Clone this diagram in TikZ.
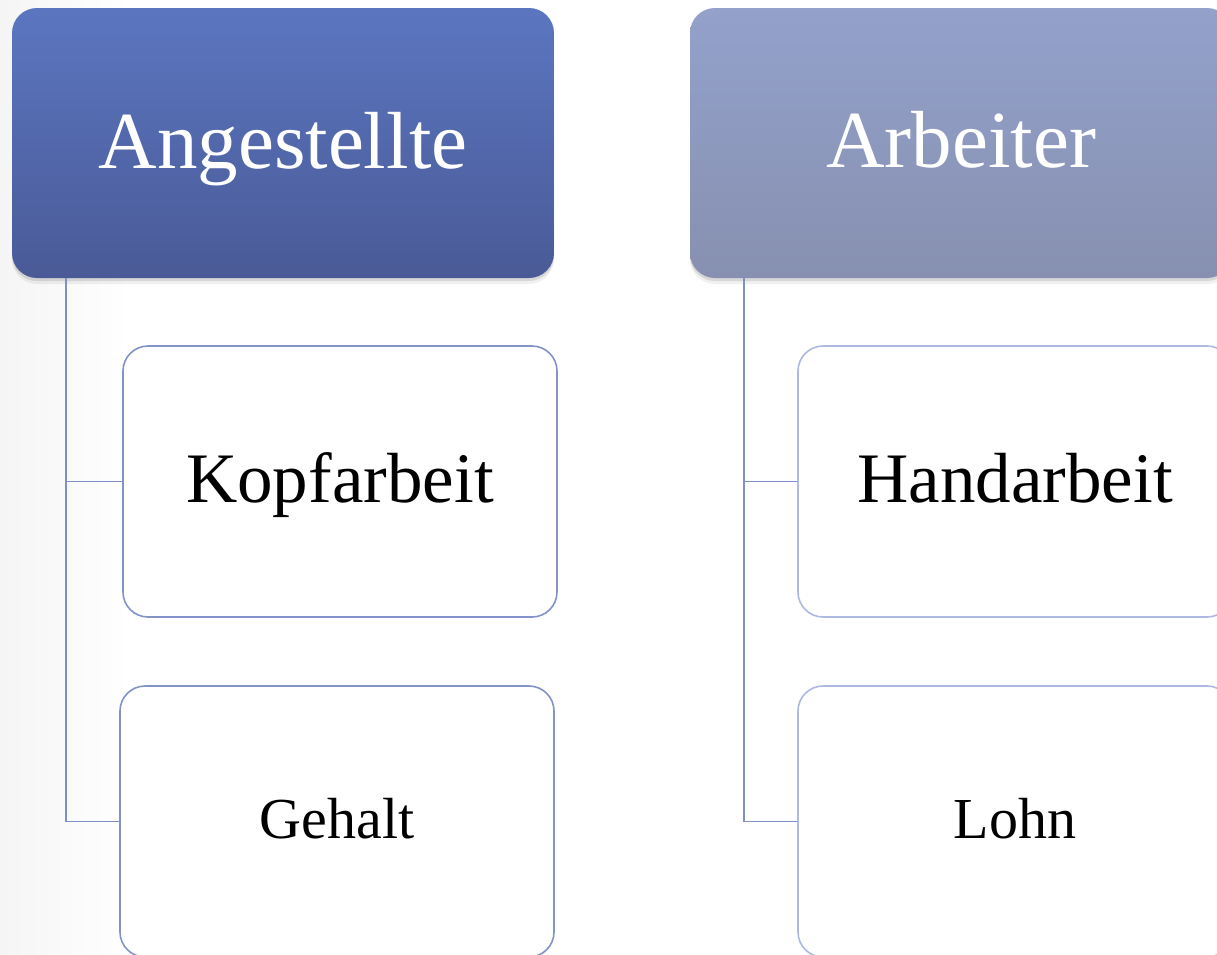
\documentclass[tikz,border=0pt]{standalone}
\usepackage{fontspec}
\setmainfont{Liberation Serif}
\usetikzlibrary{shadows,calc}
\definecolor{darktop}{HTML}{5B76C0}
\definecolor{darkbot}{HTML}{4A5A97}
\definecolor{lighttop}{HTML}{93A1CB}
\definecolor{lightbot}{HTML}{8790B0}
\definecolor{linkc}{HTML}{7F8FC8}
\definecolor{boxline}{HTML}{8393CA}
\definecolor{boxlinelight}{HTML}{ADB9E0}
\tikzset{
  headbox/.style={rounded corners=25pt, minimum width=542pt, minimum height=270pt,
    inner sep=0pt,
    drop shadow={shadow xshift=0pt, shadow yshift=-6pt, opacity=0.06, fill=black},
    drop shadow={shadow xshift=0pt, shadow yshift=-3pt, opacity=0.10, fill=black}},
  subbox/.style={rounded corners=25pt, minimum width=434pt, minimum height=271pt,
    inner sep=0pt, fill=white, line width=1.6pt},
  linkline/.style={draw=linkc, line width=1.6pt},
  headtext/.style={anchor=base, text=white, font=\fontsize{81}{90}\selectfont},
  midtext/.style={anchor=base, text=black, font=\fontsize{71}{80}\selectfont},
  lowtext/.style={anchor=base, text=black, font=\fontsize{58}{66}\selectfont},
}
\begin{document}
\begin{tikzpicture}[x=1pt,y=-1pt]
\useasboundingbox (0,0) rectangle (1217,954);
\clip (0,0) rectangle (1217,954);
\fill[white] (0,0) rectangle (1217,954);
\shade[left color=black!4, right color=white] (0,0) rectangle (130,954);
% head boxes
\node[headbox, top color=darktop, bottom color=darkbot] (A) at (283,143) {};
\node[headbox, top color=lighttop, bottom color=lightbot] (B) at (961,143) {};
% sub boxes
\node[subbox, draw=boxline] (K) at (340,481.5) {};
\node[subbox, draw=boxline] (G) at (337,821.5) {};
\node[subbox, draw=boxlinelight] (H) at (1015,481.5) {};
\node[subbox, draw=boxlinelight] (L) at (1015,821.5) {};
% connectors
\coordinate (la) at (66,278);
\coordinate (lb) at (744,278);
\draw[linkline] (la) |- (K.west);
\draw[linkline] (la) |- (G.west);
\draw[linkline] (lb) |- (H.west);
\draw[linkline] (lb) |- (L.west);
% texts
\node[headtext] (tA) at ($(A.center)+(0,25)$) {Angestellte};
\node[headtext] (tB) at ($(B.center)+(0,24)$) {Arbeiter};
\node[midtext] (tK) at ($(K.center)+(0,20.5)$) {Kopfarbeit};
\node[midtext] (tH) at ($(H.center)+(0,20.5)$) {Handarbeit};
\node[lowtext] (tG) at ($(G.center)+(0,16.5)$) {Gehalt};
\node[lowtext] (tL) at ($(L.center)+(0,16.5)$) {Lohn};
\end{tikzpicture}
\end{document}
